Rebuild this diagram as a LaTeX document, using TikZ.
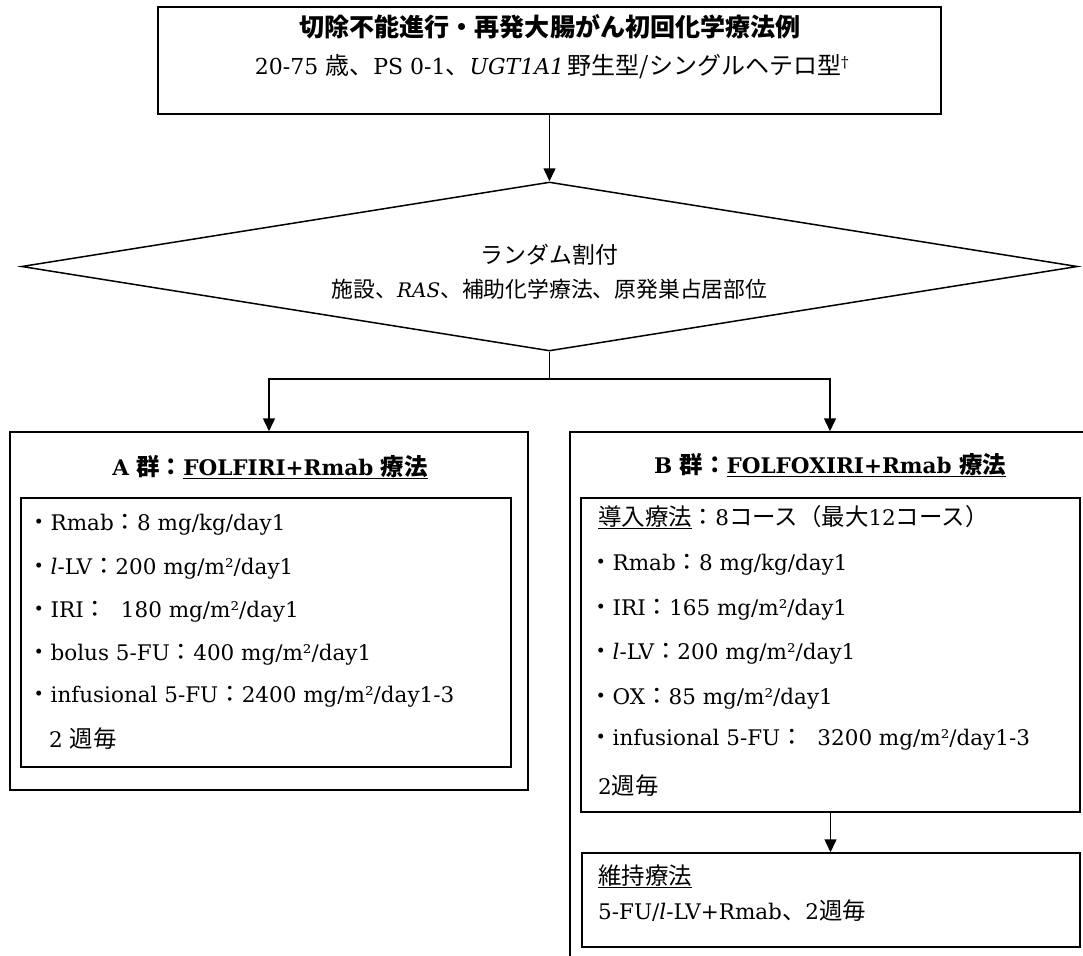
\documentclass[tikz,border=0pt]{standalone}
\usepackage{fontspec}
\setmainfont{DejaVu Serif}
\newfontfamily\jpfont[Scale=1.09]{Noto Sans CJK JP}
\usetikzlibrary{shapes.geometric,arrows.meta}
\newcommand\J[1]{{\jpfont #1}}
\newcommand\sz[1]{\fontsize{#1}{#1}\selectfont}
\tikzset{
  box/.style={draw, rectangle, line width=1.5pt, inner sep=0pt},
  conn/.style={line width=1.5pt},
  arr/.style={line width=1.5pt, -{Triangle[width=12pt,length=13pt]}},
  txt/.style={inner sep=0pt, anchor=base west},
  ctxt/.style={inner sep=0pt, anchor=base},
  item/.style={txt, font=\sz{21.5}},
}
\begin{document}
\begin{tikzpicture}[x=1pt,y=-1pt]
\useasboundingbox (0,0) rectangle (1083,955);
\clip (0,0) rectangle (1083,955);
\fill[white] (0,0) rectangle (1083,955);

% top box
\node[box, minimum width=783pt, minimum height=107pt] (top) at (549.5,60.5) {};
\node[ctxt] (t1) at (550,37) {\sz{23}\jpfont\bfseries 切除不能進行・再発大腸がん初回化学療法例};
\node[ctxt] (t2) at (552,75) {\sz{22}20-75 \J{歳、}PS 0-1\J{、}\textit{UGT1A1}\,\J{野生型/シングルヘテロ型}\textsuperscript{\sz{15}†}};

% diamond
\node[draw, diamond, line width=1.5pt, minimum width=1056pt, minimum height=169pt, inner sep=0pt, aspect=6.25] (rand) at (549.5,266.5) {};
\node[ctxt] (r1) at (549.5,263) {\sz{21}\jpfont ランダム割付};
\node[ctxt] (r2) at (549.5,297) {\sz{20}\J{施設、}\textit{RAS}\J{、補助化学療法、原発巣占居部位}};

\draw[arr] (top.south) -- (rand.north);

% group boxes
\node[box, minimum width=518pt, minimum height=358pt] (A) at (269,611) {};
\node[box, minimum width=490pt, minimum height=269pt] (Ain) at (266,632.5) {};
\node[box, minimum width=520pt, minimum height=538pt] (B) at (830,701) {};
\node[box, minimum width=499pt, minimum height=314pt] (Bin) at (830.5,655) {};
\node[box, minimum width=498pt, minimum height=94pt] (M) at (831,900) {};

\coordinate (br) at (549.5,379);
\draw[conn] (rand.south) -- (br);
\draw[arr] (br) -| (A.north);
\draw[arr] (br) -| (B.north);
\draw[arr] (Bin.south) -- (Bin.south |- M.north);

% A texts
\node[ctxt] (ah) at (270,475) {\sz{21.5}\bfseries A \J{群：}\underline{FOLFIRI+Rmab \J{療法}}};
\node[item] (a1) at (27,530) {\J{・}Rmab\J{：}8 mg/kg/day1};
\node[item] (a2) at (27,574) {\J{・}\textit{l}-LV\J{：}200 mg/m²/day1};
\node[item] (a3) at (27,617) {\J{・}IRI\J{：}\ \ 180 mg/m²/day1};
\node[item] (a4) at (27,660) {\J{・}bolus 5-FU\J{：}400 mg/m²/day1};
\node[item] (a5) at (27,702) {\J{・}infusional 5-FU\J{：}2400 mg/m²/day1-3};
\node[item] (a6) at (49,747) {2 \J{週毎}};

% B texts
\node[ctxt] (bh) at (830,473) {\sz{21.5}\bfseries B \J{群：}\underline{FOLFOXIRI+Rmab \J{療法}}};
\node[item] (b0) at (598,525) {\underline{\J{導入療法}}\J{：}8\J{コース（最大}12\J{コース）}};
\node[item] (b1) at (589,570) {\J{・}Rmab\J{：}8 mg/kg/day1};
\node[item] (b2) at (589,615) {\J{・}IRI\J{：}165 mg/m²/day1};
\node[item] (b3) at (589,659) {\J{・}\textit{l}-LV\J{：}200 mg/m²/day1};
\node[item] (b4) at (589,704) {\J{・}OX\J{：}85 mg/m²/day1};
\node[item] (b5) at (589,745) {\J{・}infusional 5-FU\J{：}\ \ 3200 mg/m²/day1-3};
\node[item] (b6) at (598,794) {2\J{週毎}};

% maintenance
\node[item] (m1) at (598,884) {\underline{\J{維持療法}}};
\node[item] (m2) at (598,919) {5-FU/\textit{l}-LV+Rmab\J{、}2\J{週毎}};
\end{tikzpicture}
\end{document}
